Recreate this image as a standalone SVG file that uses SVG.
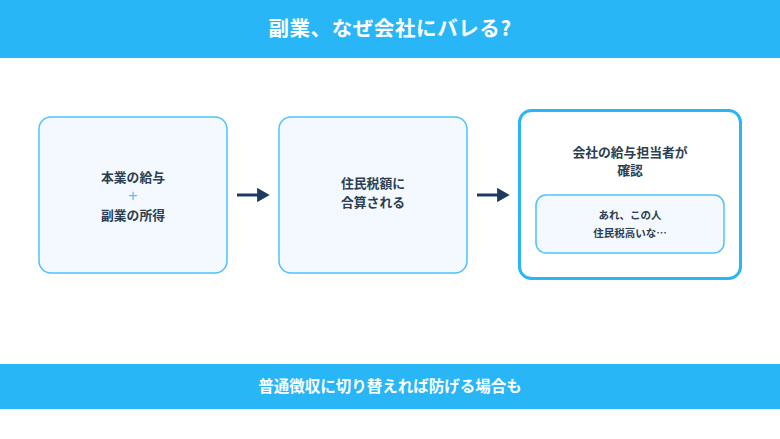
<svg xmlns="http://www.w3.org/2000/svg" width="780" height="439" viewBox="0 0 780 439">
<defs>
<style>
.jp{font-family:"Noto Sans CJK JP","Noto Sans",sans-serif;font-weight:bold;text-anchor:middle}
.box{fill:#F3F9FE;stroke:#4FC3F7;stroke-width:1.5}
.lbl{fill:#2C3E50;font-size:12.8px}
.sm{fill:#2C3E50;font-size:10.5px}
.arrow{stroke:#1E3A5F;stroke-width:3;fill:none}
</style>
<marker id="ah" markerWidth="4.2" markerHeight="4.8" refX="0.3" refY="2.4" orient="auto" markerUnits="strokeWidth"><path d="M0,0 L4.2,2.4 L0,4.8 z" fill="#1E3A5F"/></marker>
</defs>
<rect width="780" height="439" fill="#FFFFFF"/>
<g id="header">
<rect x="0" y="0" width="780" height="58" fill="#29B6F6"/>
<text class="jp" x="390" y="36" font-size="20.5" letter-spacing="0.6" fill="#FFFFFF">副業、なぜ会社にバレる?</text>
</g>
<g id="node1">
<rect class="box" x="39" y="117" width="188" height="156" rx="12"/>
<text class="jp lbl" x="133" y="182">本業の給与</text>
<text x="133" y="201" font-family="Liberation Sans, sans-serif" font-size="16" text-anchor="middle" fill="#4FC3F7">+</text>
<text class="jp lbl" x="133" y="219.5">副業の所得</text>
</g>
<g id="node2">
<rect class="box" x="279" y="117" width="188" height="156" rx="12"/>
<text class="jp lbl" x="373" y="188">住民税額に</text>
<text class="jp lbl" x="373" y="207">合算される</text>
</g>
<g id="node3">
<rect x="519.5" y="110.5" width="221" height="168" rx="12" fill="#FFFFFF" stroke="#29B6F6" stroke-width="3"/>
<text class="jp lbl" x="630" y="157">会社の給与担当者が</text>
<text class="jp lbl" x="630" y="175">確認</text>
<rect class="box" x="536" y="195" width="188" height="58" rx="10"/>
<text class="jp sm" x="630" y="219">あれ、この人</text>
<text class="jp sm" x="630" y="237">住民税高いな…</text>
</g>
<g id="connectors">
<path class="arrow" d="M237,195 H258" marker-end="url(#ah)"/>
<path class="arrow" d="M477,195 H498" marker-end="url(#ah)"/>
</g>
<g id="footer">
<rect x="0" y="364" width="780" height="45" fill="#29B6F6"/>
<text class="jp" x="390" y="392" font-size="15.5" fill="#FFFFFF">普通徴収に切り替えれば防げる場合も</text>
</g>
</svg>
